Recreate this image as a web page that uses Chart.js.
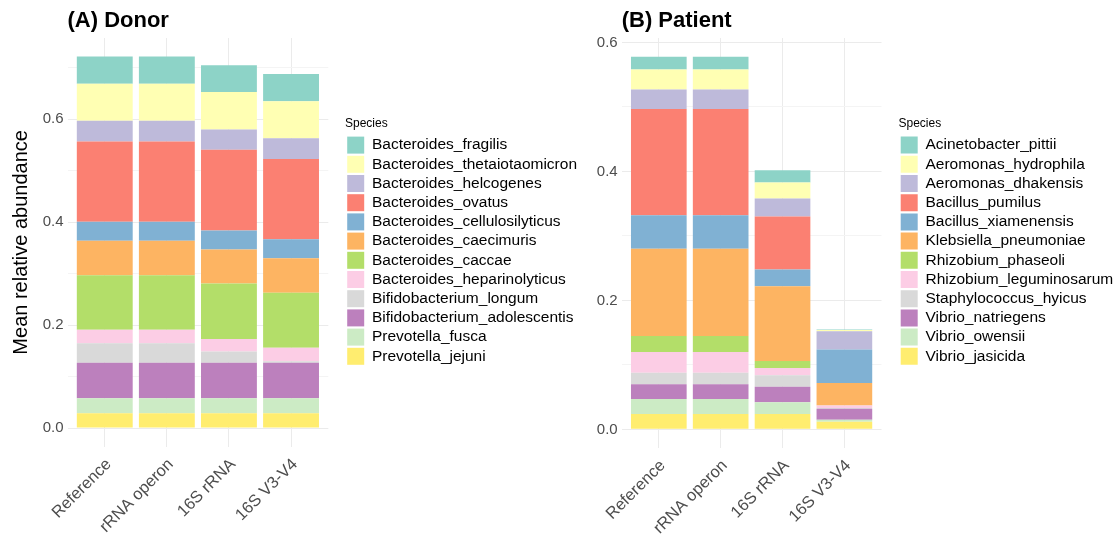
<!DOCTYPE html>
<html>
<head>
<meta charset="utf-8">
<script src="https://cdn.jsdelivr.net/npm/chart.js@4.4.1/dist/chart.umd.min.js"></script>
<style>
  html, body { margin: 0; padding: 0; background: #fff; overflow: hidden; }
  #wrap { position: relative; width: 1118px; height: 537px; }
  canvas { position: absolute; top: 0; }
</style>
</head>
<body>
<div id="wrap">
  <canvas id="donorChart" width="580" height="537" style="left:0px"></canvas>
  <canvas id="patientChart" width="538" height="537" style="left:580px"></canvas>
</div>
<script>
// categories on the x axis
const methods = ['Reference', 'rRNA operon', '16S rRNA', '16S V3-V4'];

// donor species, legend order (top of stack first)
const donorSpecies = [
  'Bacteroides_fragilis', 'Bacteroides_thetaiotaomicron', 'Bacteroides_helcogenes',
  'Bacteroides_ovatus', 'Bacteroides_cellulosilyticus', 'Bacteroides_caecimuris',
  'Bacteroides_caccae', 'Bacteroides_heparinolyticus', 'Bifidobacterium_longum',
  'Bifidobacterium_adolescentis', 'Prevotella_fusca', 'Prevotella_jejuni'
];
// one row per species: Reference, rRNA operon, 16S rRNA, 16S V3-V4
const donorValues = [
  [0.053, 0.053, 0.052, 0.053],
  [0.072, 0.072, 0.073, 0.072],
  [0.040, 0.040, 0.039, 0.040],
  [0.156, 0.156, 0.157, 0.156],
  [0.037, 0.037, 0.037, 0.037],
  [0.067, 0.067, 0.066, 0.067],
  [0.106, 0.106, 0.108, 0.107],
  [0.026, 0.026, 0.024, 0.026],
  [0.038, 0.038, 0.022, 0.003],
  [0.069, 0.069, 0.069, 0.069],
  [0.029, 0.029, 0.029, 0.029],
  [0.029, 0.029, 0.029, 0.029]
];

const patientSpecies = [
  'Acinetobacter_pittii', 'Aeromonas_hydrophila', 'Aeromonas_dhakensis',
  'Bacillus_pumilus', 'Bacillus_xiamenensis', 'Klebsiella_pneumoniae',
  'Rhizobium_phaseoli', 'Rhizobium_leguminosarum', 'Staphylococcus_hyicus',
  'Vibrio_natriegens', 'Vibrio_owensii', 'Vibrio_jasicida'
];
const patientValues = [
  [0.020, 0.020, 0.019, 0.001],
  [0.031, 0.031, 0.025, 0.002],
  [0.030, 0.030, 0.028, 0.028],
  [0.165, 0.165, 0.082, 0.000],
  [0.052, 0.052, 0.026, 0.052],
  [0.135, 0.135, 0.116, 0.035],
  [0.025, 0.025, 0.011, 0.000],
  [0.032, 0.032, 0.011, 0.004],
  [0.018, 0.018, 0.018, 0.001],
  [0.023, 0.023, 0.024, 0.017],
  [0.023, 0.023, 0.018, 0.003],
  [0.024, 0.024, 0.024, 0.012]
];

// Set3 palette, same order as the legends
const set3 = ['#8DD3C7', '#FFFFB3', '#BEBADA', '#FB8072', '#80B1D3', '#FDB462',
              '#B3DE69', '#FCCDE5', '#D9D9D9', '#BC80BD', '#CCEBC5', '#FFED6F'];

const donorTicks = [0, 0.1, 0.2, 0.3, 0.4, 0.5, 0.6, 0.7];
const patientTicks = [0, 0.1, 0.2, 0.3, 0.4, 0.5, 0.6];

Chart.defaults.font.family = "'Liberation Sans', Arial, sans-serif";

function makeDatasets(names, values) {
  // chart.js stacks the first dataset at the bottom, so reverse
  const sets = names.map((name, i) => ({
    label: name,
    data: values[i].map((v, j) => ({ x: j + 1, y: v })),
    backgroundColor: set3[i],
    borderColor: set3[i],
    borderWidth: 0,
    barPercentage: 0.9,
    categoryPercentage: 1
  }));
  return sets.reverse();
}

function drawPanel(id, title, names, values, yTicks, cfg) {
  const ctx = document.getElementById(id);
  return new Chart(ctx, {
    type: 'bar',
    data: { datasets: makeDatasets(names, values) },
    options: {
      responsive: false,
      animation: false,
      devicePixelRatio: 1,
      layout: { padding: 0 },
      scales: {
        x: {
          type: 'linear',
          stacked: true,
          offset: false,
          min: 0.4,
          max: 4.6,
          afterBuildTicks: (axis) => { axis.ticks = methods.map((m, i) => ({ value: i + 1 })); },
          afterFit: (s) => { s.height = cfg.xHeight; },
          grid: { color: '#EBEBEB', lineWidth: 1, drawTicks: false, offset: false },
          border: { display: false },
          ticks: {
            autoSkip: false,
            maxRotation: 45,
            minRotation: 45,
            padding: 8,
            labelOffset: 4,
            color: '#4D4D4D',
            font: { size: 16.5 },
            callback: (v) => methods[Math.round(v) - 1]
          }
        },
        y: {
          stacked: true,
          min: cfg.yMin,
          max: cfg.yMax,
          afterBuildTicks: (axis) => { axis.ticks = yTicks.map(v => ({ value: v })); },
          afterFit: (s) => { s.width = cfg.yWidth; },
          grid: {
            drawTicks: false,
            color: (c) => (Math.round(c.tick.value * 10) % 2 === 0 ? '#EBEBEB' : '#F4F4F4'),
            lineWidth: 1
          },
          border: { display: false },
          ticks: {
            padding: 4,
            color: '#4D4D4D',
            font: { size: 15 },
            callback: (v) => (Math.round(v * 10) % 2 === 0 ? v.toFixed(1) : '')
          },
          title: {
            display: cfg.yTitle,
            text: 'Mean relative abundance',
            color: '#000',
            font: { size: 20 },
            padding: { top: 9, bottom: 0 }
          }
        },
        gap: {
          position: 'right',
          display: true,
          grid: { display: false, drawTicks: false },
          border: { display: false },
          ticks: { display: false },
          afterFit: (s) => { s.width = cfg.gap; }
        }
      },
      plugins: {
        title: {
          display: true,
          text: title,
          align: 'start',
          fullSize: false,
          color: '#000',
          font: { size: 22, weight: 'bold' },
          padding: { top: 7.6, bottom: 4 }
        },
        legend: {
          position: 'right',
          align: 'start',
          reverse: true,
          maxWidth: cfg.legendWidth,
          title: {
            display: true,
            text: 'Species',
            position: 'start',
            color: '#000',
            font: { size: 12 },
            padding: { top: 118, bottom: 2 }
          },
          labels: {
            boxWidth: 17,
            boxHeight: 17,
            padding: 2.2,
            color: '#000',
            font: { size: 15.5 }
          }
        },
        tooltip: { enabled: false }
      }
    }
  });
}

drawPanel('donorChart', '(A) Donor', donorSpecies, donorValues, donorTicks, {
  yMin: -0.0361, yMax: 0.758, yWidth: 67.5, xHeight: 90.3, gap: 16.7,
  legendWidth: 235, yTitle: true
});

drawPanel('patientChart', '(B) Patient', patientSpecies, patientValues, patientTicks, {
  yMin: -0.0289, yMax: 0.607, yWidth: 41.7, xHeight: 89, gap: 17,
  legendWidth: 219.5, yTitle: false
});
</script>
</body>
</html>
